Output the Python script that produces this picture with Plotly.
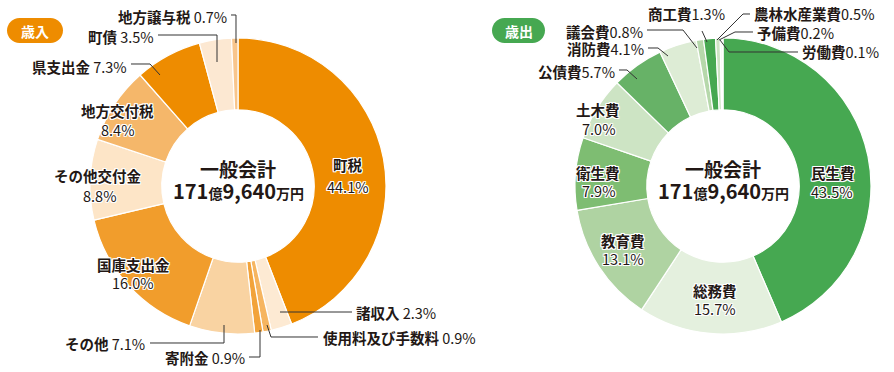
import plotly.graph_objects as go

# ---------------- data ----------------
rev_names = ["町税", "諸収入", "使用料及び手数料", "寄附金", "その他", "国庫支出金",
             "その他交付金", "地方交付税", "県支出金", "町債", "地方譲与税"]
rev_values = [44.1, 2.3, 0.9, 0.9, 7.1, 16.0, 8.8, 8.4, 7.3, 3.5, 0.7]

exp_names = ["民生費", "総務費", "教育費", "衛生費", "土木費", "公債費", "消防費",
             "議会費", "商工費", "農林水産業費", "予備費", "労働費"]
exp_values = [43.5, 15.7, 13.1, 7.9, 7.0, 5.7, 4.1, 0.8, 1.3, 0.5, 0.2, 0.1]

center_title = "一般会計"
center_amount = ("171", "億", "9,640", "万円")

# ---------------- style ----------------
W, H = 894, 372
FONT = "Noto Sans CJK JP"
TXT = "#231815"
rev_colors = ["#EE8C00", "#FDEAD3", "#F6B560", "#F2A33A", "#F9D3A2", "#F19D2C",
              "#FDE5C7", "#F5B76A", "#EE8C00", "#FCE8D2", "#F8C58C"]
exp_colors = ["#46A851", "#E4F0DE", "#AFD3A2", "#7EBD72", "#CDE4C4", "#67B267",
              "#DDECD5", "#B6D8AB", "#46A851", "#CDE4C4", "#E4F0DE", "#B6D8AB"]

R = 148
left_c = (238, 186)
right_c = (723, 186)


def px(x):
    return x / W


def py(y):
    return 1 - y / H


def domain(c):
    return dict(x=[px(c[0] - R), px(c[0] + R)], y=[py(c[1] + R), py(c[1] - R)])


fig = go.Figure()
for names, vals, cols, c in [(rev_names, rev_values, rev_colors, left_c),
                             (exp_names, exp_values, exp_colors, right_c)]:
    fig.add_trace(go.Pie(
        labels=names, values=vals, sort=False, direction="clockwise", rotation=0,
        hole=0.515, domain=domain(c), textinfo="none", hoverinfo="label+percent",
        marker=dict(colors=cols, line=dict(color="white", width=1.2)),
        showlegend=False,
    ))

annotations = []
shapes = []
HALO = "1px 1px 0 #fff, -1px -1px 0 #fff, 1px -1px 0 #fff, -1px 1px 0 #fff, 0 1px 0 #fff, 0 -1px 0 #fff, 1px 0 0 #fff, -1px 0 0 #fff"


def ann(text, x, y, xanchor="center", size=14.5, color=TXT, shadow=None):
    f = dict(family=FONT, size=size, color=color)
    if shadow:
        f["shadow"] = shadow
    annotations.append(dict(text=text, x=px(x), y=py(y), xref="paper", yref="paper",
                            xanchor=xanchor, yanchor="middle", showarrow=False,
                            font=f))


def polyline(pts, color="#333333", width=1):
    d = "M " + " L ".join(f"{px(x):.5f},{py(y):.5f}" for x, y in pts)
    shapes.append(dict(type="path", path=d, xref="paper", yref="paper",
                       line=dict(color=color, width=width)))


def pill(x0, y0, x1, y1, color):
    r = (y1 - y0) / 2
    k = 0.5523 * r
    yc = (y0 + y1) / 2
    P = lambda x, y: f"{px(x):.5f},{py(y):.5f}"
    d = (f"M {P(x0 + r, y0)} L {P(x1 - r, y0)} "
         f"C {P(x1 - r + k, y0)} {P(x1, yc - k)} {P(x1, yc)} "
         f"C {P(x1, yc + k)} {P(x1 - r + k, y1)} {P(x1 - r, y1)} "
         f"L {P(x0 + r, y1)} "
         f"C {P(x0 + r - k, y1)} {P(x0, yc + k)} {P(x0, yc)} "
         f"C {P(x0, yc - k)} {P(x0 + r - k, y0)} {P(x0 + r, y0)} Z")
    shapes.append(dict(type="path", path=d, xref="paper", yref="paper",
                       fillcolor=color, line=dict(width=0)))


rev = dict(zip(rev_names, rev_values))
exp = dict(zip(exp_names, exp_values))

# inside labels: name position, pct position
inside_left = {"町税": ((348, 164), (348, 186)),
               "国庫支出金": ((133, 264), (133, 282)),
               "その他交付金": ((98, 175), (99, 195)),
               "地方交付税": ((117, 111), (117, 129))}
inside_right = {"民生費": ((833, 172), (832, 191)),
                "総務費": ((715, 290), (715, 308)),
                "教育費": ((623, 240), (623, 258)),
                "衛生費": ((598, 172), (598, 190)),
                "土木費": ((598, 110), (598, 128))}
for lab, (p1, p2) in inside_left.items():
    ann(f"<b>{lab}</b>", *p1, shadow=HALO)
    ann(f"{rev[lab]:.1f}%", *p2, shadow=HALO)
for lab, (p1, p2) in inside_right.items():
    ann(f"<b>{lab}</b>", *p1, shadow=HALO)
    ann(f"{exp[lab]:.1f}%", *p2, shadow=HALO)

# outside labels: (x, y, anchor, leader points)
outside_left = {
    "地方譲与税": (229, 17, "right", [(231, 15), (236, 15), (236, 43)]),
    "町債": (156, 36, "right", [(158, 35), (217, 35), (217, 62)]),
    "県支出金": (129, 66, "right", [(131, 64), (150, 64), (160, 75)]),
    "その他": (147, 343, "right", [(150, 343), (224, 343), (224, 325)]),
    "寄附金": (247, 357, "right", [(249, 357), (260, 357), (260, 330)]),
    "諸収入": (354, 312, "left", [(280, 312), (352, 312)]),
    "使用料及び手数料": (321, 337, "left", [(267, 325), (271, 337), (318, 337)]),
}
for lab, (x, y, a, pts) in outside_left.items():
    ann(f"<b>{lab}</b> {rev[lab]:.1f}%", x, y, xanchor=a)
    polyline(pts)

outside_right = {
    "公債費": (617, 71, "right", [(619, 70), (627, 70), (637, 79)]),
    "消防費": (646, 48, "right", [(648, 48), (658, 48), (668, 56)]),
    "議会費": (645, 31, "right", [(647, 30), (683, 30), (697, 48)]),
    "商工費": (646, 14, "left", [(702, 31), (707, 42)]),
    "農林水産業費": (752, 14, "left", [(750, 14), (743, 14), (717, 40)]),
    "予備費": (755, 32, "left", [(753, 32), (735, 32), (719, 40)]),
    "労働費": (800, 52, "left", [(798, 52), (729, 52), (720, 40)]),
}
for lab, (x, y, a, pts) in outside_right.items():
    ann(f"<b>{lab}</b>{exp[lab]:.1f}%", x, y, xanchor=a)
    polyline(pts)

# centre texts
for c in (left_c, right_c):
    ann(f"<b>{center_title}</b>", c[0], c[1] - 18, size=19)
    a, b, d, e = center_amount
    ann(f"<b>{a}<span style='font-size:14px'>{b}</span>{d}<span style='font-size:14px'>{e}</span></b>",
        c[0], c[1] + 4, size=20)

# badges
pill(7, 18, 63, 43, "#EE8C00")
pill(492, 18, 545, 43, "#46A851")
ann("<b>歳入</b>", 35, 31, size=14, color="white")
ann("<b>歳出</b>", 518.5, 31, size=14, color="white")

fig.update_layout(width=W, height=H, margin=dict(l=0, r=0, t=0, b=0),
                  paper_bgcolor="white", plot_bgcolor="white",
                  annotations=annotations, shapes=shapes,
                  font=dict(family=FONT, color=TXT))
fig.write_html("out.html", config={"displayModeBar": False},
               post_script="document.body.style.margin='0';document.body.style.overflow='hidden';")
